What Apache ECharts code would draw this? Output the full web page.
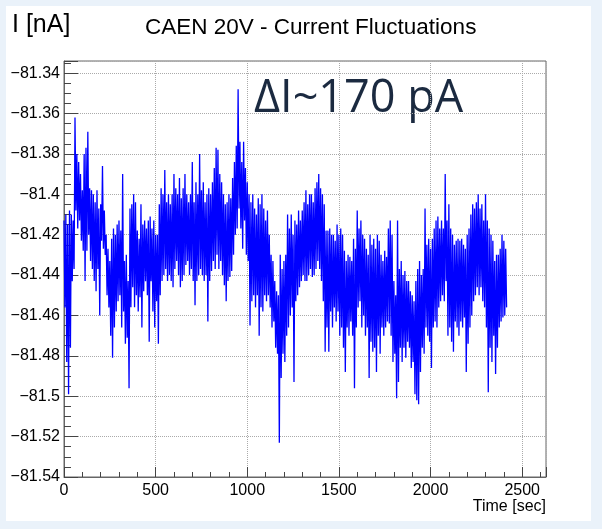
<!DOCTYPE html>
<html>
<head>
<meta charset="utf-8">
<script src="https://cdn.jsdelivr.net/npm/echarts@6/dist/echarts.min.js"></script>
<style>
html, body { margin: 0; padding: 0; background: #eaf2fa; }
#chart { width: 602px; height: 529px; }
</style>
</head>
<body>
<div id="chart"></div>
<script>
// one sample pair per 10 s bin: upper and lower excursion of the trace (nA)
var stepSec = 10;

var highI = [
  -81.413, -81.410, -81.415, -81.408, -81.410, -81.413, -81.362, -81.380, -81.384, -81.390,
  -81.398, -81.380, -81.377, -81.369, -81.397, -81.398, -81.400, -81.404, -81.398, -81.407,
  -81.405, -81.386, -81.408, -81.420, -81.427, -81.433, -81.422, -81.417, -81.420, -81.415,
  -81.413, -81.418, -81.390, -81.433, -81.430, -81.443, -81.407, -81.405, -81.400, -81.404,
  -81.418, -81.422, -81.405, -81.415, -81.413, -81.417, -81.413, -81.411,
  -81.417, -81.413, -81.420, -81.420, -81.405, -81.397, -81.400, -81.388, -81.404, -81.400,
  -81.405, -81.400, -81.390, -81.397, -81.400, -81.392, -81.402, -81.397, -81.390, -81.400,
  -81.404, -81.400, -81.384, -81.404, -81.394, -81.400, -81.380, -81.398, -81.394, -81.404,
  -81.400, -81.397, -81.400, -81.394, -81.387, -81.377, -81.378, -81.390, -81.394, -81.400,
  -81.405, -81.404, -81.400, -81.402, -81.392, -81.384, -81.376, -81.348,
  -81.374, -81.384, -81.374, -81.387, -81.394, -81.400, -81.404, -81.400, -81.407, -81.410,
  -81.402, -81.405, -81.400, -81.407, -81.413, -81.408, -81.420, -81.430, -81.433, -81.443,
  -81.448, -81.450, -81.430, -81.437, -81.433, -81.430, -81.410, -81.417, -81.410, -81.420,
  -81.413, -81.415, -81.408, -81.413, -81.408, -81.404, -81.398, -81.405, -81.400, -81.400,
  -81.404, -81.397, -81.394, -81.390, -81.397, -81.400, -81.405, -81.418,
  -81.418, -81.417, -81.420, -81.420, -81.423, -81.415, -81.420, -81.417, -81.420, -81.428,
  -81.433, -81.430, -81.431, -81.433, -81.422, -81.427, -81.408, -81.417, -81.413, -81.420,
  -81.422, -81.427, -81.430, -81.420, -81.425, -81.422, -81.427, -81.420, -81.423, -81.430,
  -81.433, -81.428, -81.431, -81.417, -81.413, -81.420, -81.443, -81.450, -81.413, -81.437,
  -81.433, -81.440, -81.438, -81.443, -81.443, -81.448, -81.450, -81.453,
  -81.443, -81.437, -81.433, -81.440, -81.437, -81.407, -81.425, -81.422, -81.427, -81.422,
  -81.417, -81.413, -81.411, -81.417, -81.413, -81.417, -81.390, -81.413, -81.405, -81.417,
  -81.420, -81.425, -81.423, -81.422, -81.423, -81.422, -81.425, -81.427, -81.420, -81.417,
  -81.410, -81.405, -81.407, -81.404, -81.400, -81.407, -81.405, -81.413, -81.400, -81.413,
  -81.417, -81.420, -81.423, -81.433, -81.430, -81.430, -81.427, -81.420, -81.423, -81.427
];

var lowI = [
  -81.456, -81.483, -81.499, -81.476, -81.443, -81.437, -81.408, -81.417, -81.413, -81.423,
  -81.428, -81.443, -81.428, -81.420, -81.433, -81.437, -81.443, -81.448, -81.437, -81.460,
  -81.423, -81.427, -81.430, -81.450, -81.456, -81.470, -81.481, -81.466, -81.458, -81.453,
  -81.450, -81.466, -81.458, -81.474, -81.471, -81.496, -81.456, -81.446, -81.456, -81.450,
  -81.458, -81.451, -81.466, -81.448, -81.443, -81.450, -81.473, -81.443,
  -81.458, -81.466, -81.453, -81.474, -81.450, -81.443, -81.440, -81.437, -81.443, -81.440,
  -81.443, -81.446, -81.437, -81.433, -81.440, -81.446, -81.443, -81.440, -81.435, -81.433,
  -81.440, -81.437, -81.443, -81.455, -81.443, -81.440, -81.437, -81.440, -81.443, -81.440,
  -81.463, -81.443, -81.438, -81.433, -81.437, -81.430, -81.437, -81.433, -81.440, -81.445,
  -81.453, -81.443, -81.441, -81.438, -81.430, -81.420, -81.417, -81.407,
  -81.417, -81.427, -81.413, -81.430, -81.433, -81.465, -81.453, -81.450, -81.456, -81.450,
  -81.470, -81.456, -81.458, -81.450, -81.453, -81.450, -81.456, -81.466, -81.463, -81.476,
  -81.479, -81.523, -81.491, -81.479, -81.483, -81.470, -81.466, -81.460, -81.456, -81.493,
  -81.453, -81.450, -81.446, -81.443, -81.440, -81.443, -81.443, -81.440, -81.437, -81.441,
  -81.440, -81.437, -81.433, -81.437, -81.443, -81.453, -81.478, -81.466,
  -81.478, -81.458, -81.466, -81.456, -81.463, -81.458, -81.470, -81.466, -81.476, -81.488,
  -81.466, -81.470, -81.463, -81.470, -81.496, -81.466, -81.456, -81.453, -81.466, -81.460,
  -81.470, -81.466, -81.491, -81.473, -81.478, -81.476, -81.488, -81.470, -81.479, -81.466,
  -81.470, -81.466, -81.463, -81.464, -81.470, -81.483, -81.479, -81.501, -81.493, -81.476,
  -81.483, -81.476, -81.481, -81.473, -81.476, -81.486, -81.483, -81.499,
  -81.502, -81.504, -81.488, -81.476, -81.479, -81.466, -81.470, -81.473, -81.486, -81.466,
  -81.463, -81.466, -81.456, -81.453, -81.450, -81.453, -81.443, -81.470, -81.466, -81.473,
  -81.478, -81.463, -81.466, -81.470, -81.463, -81.466, -81.461, -81.488, -81.474, -81.466,
  -81.460, -81.453, -81.450, -81.446, -81.450, -81.446, -81.453, -81.456, -81.466, -81.498,
  -81.476, -81.483, -81.470, -81.489, -81.476, -81.466, -81.463, -81.461, -81.460, -81.456
];

// axis ranges
var xMin = 0, xMax = 2630, xStep = 500;
var yMin = -81.54, yMax = -81.334, yStep = 0.02;

var dom = document.getElementById('chart');
var myChart = echarts.init(dom);

var points = [];
for (var i = 0; i < highI.length; i++) {
    points.push([i * stepSec, highI[i]]);
    points.push([i * stepSec + stepSec / 2, lowI[i]]);
}

var fmtY = function (v) {
    var k = (v - yMin) / yStep;
    if (Math.abs(k - Math.round(k)) > 1e-6) return '';
    return String(Number(v.toFixed(2))).replace('-', '\u2212');
};
var fmtX = function (v) {
    return v % xStep === 0 ? String(v) : '';
};

var font = '"Liberation Sans", Arial, sans-serif';

var option = {
    animation: false,
    backgroundColor: 'transparent',
    graphic: [
        { type: 'rect', silent: true, z: -10,
          shape: { x: 6, y: 6, width: 585, height: 515 }, style: { fill: '#ffffff' } },
        { type: 'text', left: 12, top: 13,
          style: { text: 'I [nA]', fontSize: 25, fontFamily: font, fill: '#000' } },
        { type: 'text', right: 56, top: 499,
          style: { text: 'Time [sec]', fontSize: 16, fontFamily: font, fill: '#000' } },
        { type: 'text', left: 254, top: 77,
          style: { text: '\u0394I~170 pA', fontSize: 45, fontFamily: '"Open Sans", sans-serif', fill: '#1b2a40' } }
    ],
    title: {
        text: 'CAEN 20V - Current Fluctuations',
        left: 140, top: 11,
        textStyle: { fontSize: 22.5, fontWeight: 'normal', fontFamily: font, color: '#000' }
    },
    grid: {
        left: 64, right: 56, top: 61, bottom: 52,
        show: true, borderColor: '#666', borderWidth: 1, backgroundColor: '#fff'
    },
    xAxis: {
        type: 'value', min: xMin, max: xMax, interval: xStep,
        axisLine: { lineStyle: { color: '#666' } },
        axisTick: { inside: true, length: 10, lineStyle: { color: '#444' } },
        minorTick: { show: true, splitNumber: 5, length: 5, lineStyle: { color: '#444' } },
        splitLine: { show: true, lineStyle: { type: 'dotted', color: '#aaa' } },
        axisLabel: { formatter: fmtX, fontSize: 16, fontFamily: font, color: '#000', margin: 6, showMaxLabel: false }
    },
    yAxis: {
        type: 'value', min: yMin, max: yMax, interval: yStep,
        axisLine: { show: true, lineStyle: { color: '#666' } },
        axisTick: { show: true, inside: true, length: 14, lineStyle: { color: '#444' } },
        minorTick: { show: true, splitNumber: 4, length: 7, lineStyle: { color: '#444' } },
        splitLine: { show: true, lineStyle: { type: 'dotted', color: '#aaa' } },
        axisLabel: { formatter: fmtY, fontSize: 16, fontFamily: font, color: '#000', margin: 4, showMaxLabel: false }
    },
    series: [
        {
            type: 'line',
            data: points,
            showSymbol: false,
            symbol: 'none',
            lineStyle: { color: '#0000ff', width: 1.3 },
            z: 3
        }
    ]
};

myChart.setOption(option, true);
</script>
</body>
</html>
